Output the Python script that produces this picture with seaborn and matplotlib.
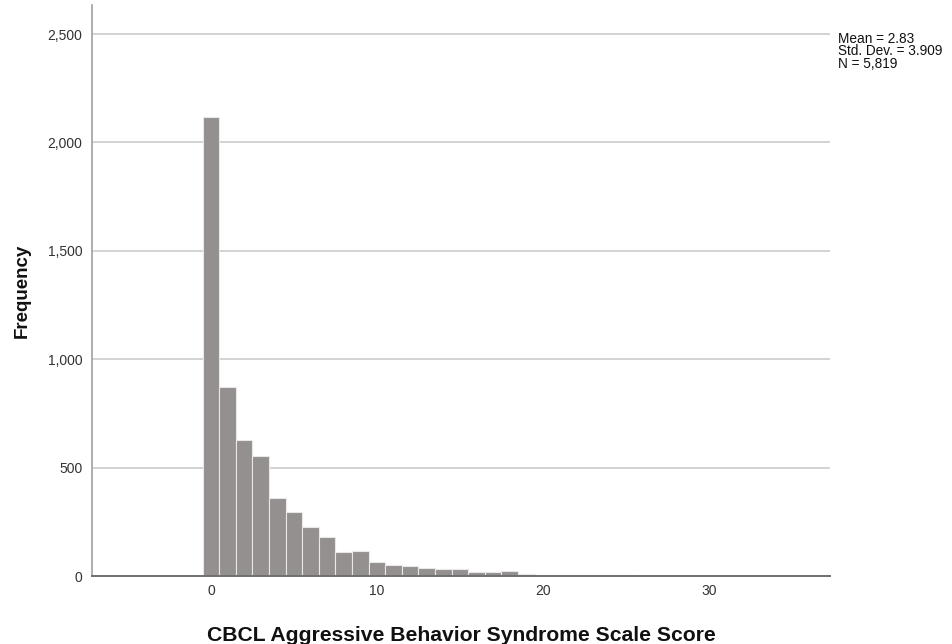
import numpy as np
import pandas as pd
import seaborn as sns
import matplotlib.pyplot as plt
from matplotlib.ticker import FuncFormatter

# scores and their frequencies
scores = list(range(0, 35))
counts = [2116, 873, 627, 553, 358, 297, 228, 181, 109, 115,
          65, 49, 45, 35, 34, 31, 17, 17, 23, 11,
          6, 5, 4, 3, 3, 4, 2, 2, 1, 1,
          1, 1, 1, 0, 1]
y_ticks = [0, 500, 1000, 1500, 2000, 2500]
x_ticks = [0, 10, 20, 30]
stats_text = "Mean = 2.83\nStd. Dev. = 3.909\nN = 5,819"

df = pd.DataFrame({"score": scores, "count": counts})

sns.set_style("white")
plt.rcParams['font.family'] = ['Liberation Sans', 'DejaVu Sans']

fig = plt.figure(figsize=(9.52, 6.44), dpi=100)
ax = fig.add_axes([92 / 952, 68 / 644, 738 / 952, 571 / 644])

for t in y_ticks[1:]:
    ax.axhline(t, color='#c8c8c8', lw=1.1, zorder=0)

sns.histplot(data=df, x="score", weights="count", discrete=True, ax=ax,
             color='#949090', alpha=1, edgecolor='#e8e8e8', linewidth=0.8, zorder=2)

ax.set_xlim(-7.17, 37.3)
ax.set_ylim(0, 2634)
ax.set_xticks(x_ticks)
ax.set_yticks(y_ticks)
ax.yaxis.set_major_formatter(FuncFormatter(lambda v, p: f"{int(v):,}"))
ax.tick_params(axis='both', length=0, labelsize=10, colors='#333333')
ax.tick_params(axis='x', pad=6)
ax.tick_params(axis='y', pad=7)

for s in ['top', 'right']:
    ax.spines[s].set_visible(False)
ax.spines['left'].set_color('#a0a0a0')
ax.spines['left'].set_linewidth(1.2)
ax.spines['bottom'].set_color('#707070')
ax.spines['bottom'].set_linewidth(1.4)

ax.set_xlabel("CBCL Aggressive Behavior Syndrome Scale Score", fontsize=15.2,
              fontweight='bold', color='#111111', labelpad=20)
ax.set_ylabel("Frequency", fontsize=13.5, fontweight='bold', color='#111111', labelpad=12)

fig.text(838 / 952, 1 - 32 / 644, stats_text, fontsize=9.8, color='#111111',
         va='top', ha='left', linespacing=0.85)

fig.savefig("out.png", dpi=100)
